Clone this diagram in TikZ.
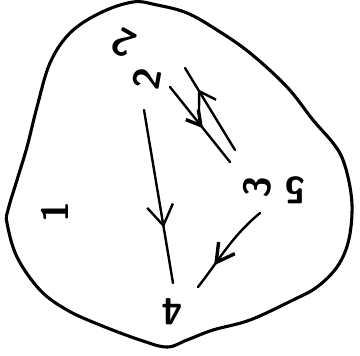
\documentclass[tikz,border=0pt]{standalone}
\usepackage{tikz}
\usetikzlibrary{arrows.meta,calc,decorations.markings}
\tikzset{
  >={Straight Barb[length=4mm,width=5mm]},
  lbl/.style={font=\sffamily\bfseries\fontsize{27}{30}\selectfont,inner sep=1pt},
  blob/.style={line width=2.2pt,line join=round},
  edge/.style={line width=1.7pt,line cap=round},
  midarr/.style 2 args={postaction={decorate},
    decoration={markings,mark=at position #1 with {\arrow[line width=1.7pt]{#2}}}},
}

\begin{document}
\begin{tikzpicture}[x=0.25mm,y=0.25mm]
  \useasboundingbox (0,0) rectangle (360,355);
  % outline
  \draw[blob] plot[smooth cycle,tension=0.6] coordinates {
    (133,353) (157,350) (187,342) (217,325) (250,302) (287,268) (313,235)
    (333,212) (343,195) (350,168) (352,142) (348,112) (337,88) (317,68)
    (293,55) (250,35) (213,25) (187,15) (167,8) (140,15) (100,30) (67,45)
    (40,65) (17,98) (7,132) (8,145) (17,175) (27,208) (37,248) (50,292)
    (70,322) (100,342)};
  % labels
  \node[lbl] (n1) at (55,143) {\rotatebox{90}{1}};
  \node[lbl] (n2) at (147,276) {\rotatebox{80}{2}};
  \node[lbl] (n2b) at (124,312) {\rotatebox{150}{2}};
  \node[lbl] (n3) at (257,168) {\rotatebox{85}{3}};
  \node[lbl] (n3b) at (295,165) {\rotatebox{180}{5}};
  \node[lbl] (n4) at (172,43) {\rotatebox{180}{4}};
  % connectors
  \draw[edge,midarr={0.68}{Straight Barb[length=5mm,width=6.5mm]}]
    ([shift={(-3,-31)}]n2.center) -- ([shift={(1,29)}]n4.center);
  \draw[edge,midarr={0.72}{Straight Barb[length=4.5mm,width=5mm,line width=2.4pt]}]
    ([shift={(3,-26)}]n3.center) to[out=220,in=52] ([shift={(26,25)}]n4.center);
  \draw[edge,midarr={0.55}{Straight Barb[length=3.5mm,width=4mm,line width=2.4pt]}]
    ([shift={(23,-8)}]n2.center) -- ([shift={(-27,25)}]n3.center);
  \draw[edge,midarr={0.74}{Straight Barb[length=4mm,width=5mm]}]
    ([shift={(-22,37)}]n3.center) -- ([shift={(38,11)}]n2.center);
\end{tikzpicture}
\end{document}
